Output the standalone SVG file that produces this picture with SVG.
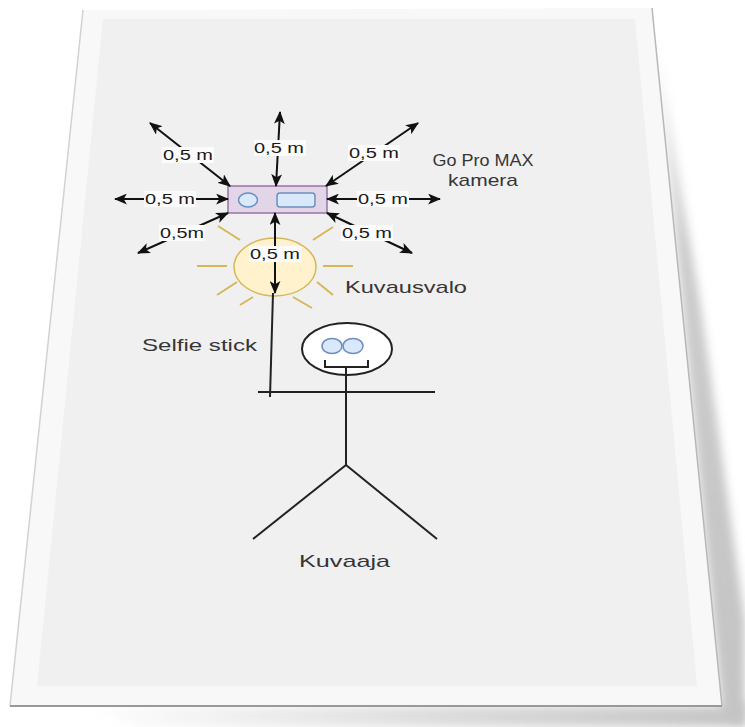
<svg xmlns="http://www.w3.org/2000/svg" width="745" height="727" viewBox="0 0 745 727">
  <defs>
    <filter id="soft" x="-20%" y="-20%" width="140%" height="140%">
      <feGaussianBlur stdDeviation="5"/>
    </filter>
    <linearGradient id="shadeBottom" x1="0" y1="0" x2="1" y2="0">
      <stop offset="0" stop-color="#cccccc" stop-opacity="0"/>
      <stop offset="0.55" stop-color="#cccccc" stop-opacity="0.7"/>
      <stop offset="1" stop-color="#c4c4c4"/>
    </linearGradient>
    <linearGradient id="shadeSide" x1="0" y1="0" x2="0" y2="1">
      <stop offset="0" stop-color="#c8c8c8" stop-opacity="0.2"/>
      <stop offset="0.3" stop-color="#c6c6c6" stop-opacity="0.9"/>
      <stop offset="1" stop-color="#c4c4c4"/>
    </linearGradient>
    <marker id="head" viewBox="0 0 12 10" refX="11" refY="5" markerWidth="13" markerHeight="11" markerUnits="userSpaceOnUse" orient="auto-start-reverse">
      <path d="M0,0 L12,5 L0,10 L3,5 Z" fill="#111"/>
    </marker>
    <style>
      .arrow { stroke: #111; stroke-width: 2; fill: none; marker-start: url(#head); marker-end: url(#head); }
      .lbl-bg { fill: #fbfbfb; }
      .lbl { font-family: "Liberation Sans", Arial, sans-serif; font-size: 14px; fill: #1a1a1a; text-anchor: middle; }
      .txt { font-family: "Liberation Sans", Arial, sans-serif; font-size: 17px; fill: #363636; }
      .ray { stroke: #d6b656; stroke-width: 2; }
      .fig { stroke: #222; stroke-width: 2; fill: none; }
    </style>
  </defs>

  <rect width="745" height="727" fill="#ffffff"/>

  <!-- page shadow -->
  <g id="page-shadow">
    <polygon points="656,40 700,300 745,620 745,727 722,712" fill="url(#shadeSide)" filter="url(#soft)"/>
    <polygon points="80,706 722,706 745,700 745,727 140,727" fill="url(#shadeBottom)" filter="url(#soft)"/>
  </g>

  <!-- page -->
  <g id="page">
    <polygon points="83,10 652,8 722,706 10,706" fill="#f8f8f8"/>
    <polygon points="103,19 635,19 697,686 37,686" fill="#f0f0f0"/>
    <line x1="83" y1="10" x2="10" y2="706" stroke="#d2d2d2" stroke-width="1.5"/>
    <line x1="652" y1="8" x2="722" y2="706" stroke="#b8b8b8" stroke-width="1.5"/>
    <line x1="10" y1="706" x2="722" y2="706" stroke="#999" stroke-width="2"/>
  </g>

  <!-- light source -->
  <g id="kuvausvalo">
    <line class="ray" x1="197" y1="266" x2="227" y2="266"/>
    <line class="ray" x1="323" y1="266" x2="353" y2="266"/>
    <line class="ray" x1="218" y1="226" x2="240" y2="240"/>
    <line class="ray" x1="313" y1="240" x2="333" y2="227"/>
    <line class="ray" x1="217" y1="295" x2="237" y2="282"/>
    <line class="ray" x1="317" y1="282" x2="333" y2="295"/>
    <line class="ray" x1="240" y1="305" x2="253" y2="297"/>
    <line class="ray" x1="293" y1="297" x2="312" y2="308"/>
    <ellipse cx="275" cy="267" rx="41" ry="29" fill="#fff2cc" stroke="#d6b656" stroke-width="1.5"/>
    <text class="txt" x="345" y="293" textLength="122" lengthAdjust="spacingAndGlyphs">Kuvausvalo</text>
  </g>

  <!-- camera -->
  <g id="camera">
    <rect x="228" y="186" width="99" height="27" fill="#e1d5e7" stroke="#9673a6" stroke-width="1.5"/>
    <ellipse cx="248" cy="200" rx="9.5" ry="7" fill="#dae8fc" stroke="#6c8ebf" stroke-width="1.5"/>
    <rect x="277" y="193" width="38" height="14" rx="3" fill="#dae8fc" stroke="#6c8ebf" stroke-width="1.5"/>
    <text class="txt" x="483" y="166" text-anchor="middle" textLength="101" lengthAdjust="spacingAndGlyphs">Go Pro MAX</text>
    <text class="txt" x="483" y="186" text-anchor="middle" textLength="70" lengthAdjust="spacingAndGlyphs">kamera</text>
  </g>

  <!-- person -->
  <g id="kuvaaja">
    <ellipse cx="347" cy="349" rx="45" ry="26" fill="#ffffff" stroke="#222" stroke-width="2"/>
    <ellipse cx="332" cy="346" rx="10" ry="7.5" fill="#dae8fc" stroke="#6c8ebf" stroke-width="1.5"/>
    <ellipse cx="353" cy="346" rx="10" ry="7.5" fill="#dae8fc" stroke="#6c8ebf" stroke-width="1.5"/>
    <path class="fig" d="M325,360 V367 H368 V360"/>
    <line class="fig" x1="346" y1="367" x2="346" y2="465"/>
    <line class="fig" x1="258" y1="392" x2="435" y2="392"/>
    <line class="fig" x1="346" y1="465" x2="253" y2="539"/>
    <line class="fig" x1="346" y1="465" x2="437" y2="539"/>
    <text class="txt" x="299" y="567" font-size="18" textLength="91" lengthAdjust="spacingAndGlyphs">Kuvaaja</text>
  </g>

  <!-- selfie stick -->
  <g id="selfie-stick">
    <line class="fig" x1="273" y1="293" x2="270" y2="397"/>
    <text class="txt" x="142" y="351" textLength="115" lengthAdjust="spacingAndGlyphs">Selfie stick</text>
  </g>

  <!-- distance arrows -->
  <g id="connectors">
    <line class="arrow" x1="276" y1="186" x2="280" y2="112"/>
    <line class="arrow" x1="230" y1="186" x2="150" y2="123"/>
    <line class="arrow" x1="326" y1="186" x2="418" y2="123"/>
    <line class="arrow" x1="228" y1="199" x2="115" y2="199"/>
    <line class="arrow" x1="327" y1="199" x2="440" y2="199"/>
    <line class="arrow" x1="228" y1="213" x2="138" y2="253"/>
    <line class="arrow" x1="327" y1="213" x2="412" y2="253"/>
    <line class="arrow" x1="275" y1="213" x2="275" y2="293"/>

    <rect class="lbl-bg" x="254" y="140" width="52" height="16"/>
    <text class="lbl" x="279" y="153" textLength="50" lengthAdjust="spacingAndGlyphs">0,5 m</text>
    <rect class="lbl-bg" x="162" y="147" width="52" height="16"/>
    <text class="lbl" x="188" y="160" textLength="50" lengthAdjust="spacingAndGlyphs">0,5 m</text>
    <rect class="lbl-bg" x="348" y="145" width="52" height="16"/>
    <text class="lbl" x="374" y="158" textLength="50" lengthAdjust="spacingAndGlyphs">0,5 m</text>
    <rect class="lbl-bg" x="144" y="191" width="52" height="16"/>
    <text class="lbl" x="170" y="204" textLength="50" lengthAdjust="spacingAndGlyphs">0,5 m</text>
    <rect class="lbl-bg" x="357" y="191" width="52" height="16"/>
    <text class="lbl" x="383" y="204" textLength="50" lengthAdjust="spacingAndGlyphs">0,5 m</text>
    <rect class="lbl-bg" x="159" y="225" width="46" height="16"/>
    <text class="lbl" x="182" y="238" textLength="44" lengthAdjust="spacingAndGlyphs">0,5m</text>
    <rect class="lbl-bg" x="341" y="225" width="52" height="16"/>
    <text class="lbl" x="367" y="238" textLength="50" lengthAdjust="spacingAndGlyphs">0,5 m</text>
    <rect class="lbl-bg" x="249" y="246" width="52" height="16"/>
    <text class="lbl" x="275" y="259" textLength="50" lengthAdjust="spacingAndGlyphs">0,5 m</text>
  </g>
</svg>
